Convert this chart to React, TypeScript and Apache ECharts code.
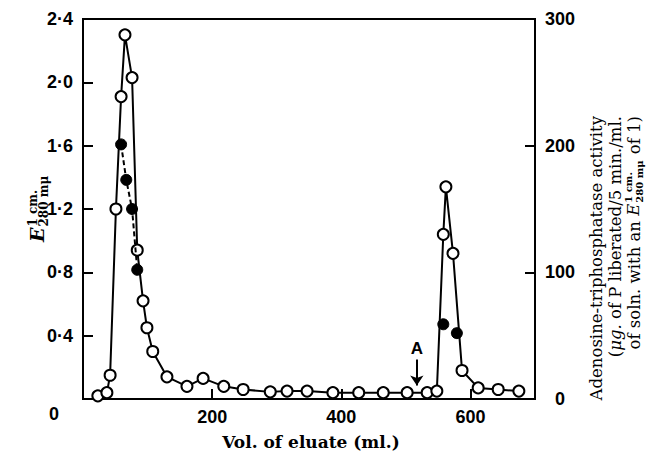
import React, { useEffect, useRef } from 'react';
import * as echarts from 'echarts';

// Extinction E(1 cm, 280 mμ) — open circles, left axis
const volE = [23, 37, 42, 51, 59, 65, 76, 84, 93, 99, 108, 130, 161, 186, 218, 248, 290, 316, 347, 387, 427, 465, 502, 533, 548, 558, 562, 573, 587, 612, 643, 675];
const absE = [0.02, 0.04, 0.15, 1.2, 1.91, 2.3, 2.03, 0.94, 0.62, 0.45, 0.3, 0.14, 0.08, 0.13, 0.08, 0.06, 0.045, 0.05, 0.05, 0.04, 0.04, 0.04, 0.04, 0.04, 0.05, 1.04, 1.34, 0.92, 0.18, 0.07, 0.06, 0.05];

// ATPase activity — filled circles, right axis
const volAct1 = [59, 67, 76, 84];
const act1 = [201, 173, 150, 102];
const volAct2 = [558, 579];
const act2 = [59, 52];

// annotation arrow "A"
const arrowVol = 517;
const arrowFrom = 0.25;
const arrowTo = 0.085;
const arrowLabel = 'A';

const xTitle = 'Vol. of eluate (ml.)';
const rightLine1 = 'Adenosine-triphosphatase activity';
const rightLine2 = '({i|μg.} of P liberated/5 min./ml.';
const rightLine3a = 'of soln. with an ';
const rightLine3b = ' of 1)';
const eSup = '1 cm.';
const eSub = '280 mμ';

const SANS = '"Liberation Sans", Arial, sans-serif';
const SERIF = '"DejaVu Serif", serif';

function measure(text: string, font: string): number {
  const c = document.createElement('canvas').getContext('2d');
  if (!c) return text.length * 7;
  c.font = font;
  return c.measureText(text).width;
}

export default function App() {
  const ref = useRef<HTMLDivElement>(null);
  useEffect(() => {
    if (!ref.current) return;
    const chart = echarts.init(ref.current, undefined, { renderer: 'svg' });

    const tf = 16.5; // right title font size
    const tFont = `${tf}px ${SERIF}`;
    const subF = 10;
    const w3b = measure(rightLine3b, tFont);
    const wSub = measure(eSub, `bold ${subF}px ${SERIF}`);
    const wSup = measure(eSup, `bold ${subF}px ${SERIF}`);
    const wBlk = Math.max(wSub, wSup);
    const wE = measure('E', `italic ${tf}px ${SERIF}`);

    const lf = 19;
    const lsf = 12;
    const lwE = measure('E', `italic bold ${lf}px ${SERIF}`);

    const eE = absE.map((v, i) => [volE[i], v]);
    const a1 = act1.map((v, i) => [volAct1[i], v]);
    const a2 = act2.map((v, i) => [volAct2[i], v]);

    const option: any = {
      animation: false,
      backgroundColor: '#fff',
      grid: { left: 83, right: 115, top: 19, bottom: 54, show: true, borderColor: '#000', borderWidth: 2, backgroundColor: 'transparent' },
      xAxis: {
        type: 'value', min: 0, max: 700, interval: 200,
        axisLine: { show: true, lineStyle: { color: '#000', width: 2 } },
        axisTick: { show: true, inside: true, length: 10, lineStyle: { color: '#000', width: 2 } },
        splitLine: { show: false },
        axisLabel: {
          margin: 9, color: '#000', fontFamily: SANS, fontWeight: 'bold', fontSize: 18,
          showMaxLabel: false,
          formatter: (v: number) => (v === 0 || v % 200 !== 0 ? '' : String(v)),
        },
      },
      yAxis: [
        {
          type: 'value', min: 0, max: 2.4, interval: 0.4, position: 'left',
          axisLine: { show: true, lineStyle: { color: '#000', width: 2 } },
          axisTick: { show: true, inside: true, length: 10, lineStyle: { color: '#000', width: 2 } },
          splitLine: { show: false },
          axisLabel: {
            margin: 10, color: '#000', fontFamily: SANS, fontWeight: 'bold', fontSize: 18,
            formatter: (v: number) => (v === 0 ? '{z|0}' : v.toFixed(1).replace('.', '·')),
            rich: { z: { fontFamily: SANS, fontWeight: 'bold', fontSize: 18, color: '#000', padding: [30, 14, 0, 0] } },
          },
        },
        {
          type: 'value', min: 0, max: 300, interval: 100, position: 'right',
          axisLine: { show: true, lineStyle: { color: '#000', width: 2 } },
          axisTick: { show: true, inside: true, length: 10, lineStyle: { color: '#000', width: 2 } },
          splitLine: { show: false },
          axisLabel: { margin: 25, align: 'center', color: '#000', fontFamily: SANS, fontWeight: 'bold', fontSize: 18 },
        },
      ],
      series: [
        {
          type: 'line', data: eE, yAxisIndex: 0, z: 3,
          symbol: 'circle', symbolSize: 11,
          itemStyle: { color: '#fff', borderColor: '#000', borderWidth: 2 },
          lineStyle: { color: '#000', width: 2 },
          markLine: {
            silent: true, symbol: ['none', 'arrow'], symbolSize: 10,
            lineStyle: { color: '#000', width: 2, type: 'solid' },
            label: { show: true, position: 'start', formatter: arrowLabel, color: '#000', fontFamily: SANS, fontWeight: 'bold', fontSize: 17, distance: 2 },
            data: [[{ coord: [arrowVol, arrowFrom] }, { coord: [arrowVol, arrowTo] }]],
          },
        },
        {
          type: 'line', data: a1, yAxisIndex: 1, z: 4,
          symbol: 'circle', symbolSize: 11,
          itemStyle: { color: '#000', borderColor: '#000', borderWidth: 1, opacity: 1 },
          lineStyle: { color: '#000', width: 2, type: [5, 3] },
        },
        {
          type: 'scatter', data: a2, yAxisIndex: 1, z: 4,
          symbol: 'circle', symbolSize: 11,
          itemStyle: { color: '#000', borderColor: '#000', borderWidth: 1, opacity: 1 },
        },
      ],
      graphic: [
        {
          type: 'text', x: 311, y: 442, z: 10,
          style: { text: xTitle, fill: '#000', font: `bold 17px ${SERIF}`, align: 'center', verticalAlign: 'middle' },
        },
        {
          type: 'group', x: 43, y: 242, rotation: Math.PI / 2,
          children: [
            { type: 'text', x: 0, y: -6, style: { text: 'E', fill: '#000', font: `italic bold ${lf}px ${SERIF}`, align: 'left', verticalAlign: 'middle' } },
            { type: 'text', x: lwE + 1, y: -10, style: { text: eSup, fill: '#000', font: `bold ${lsf}px ${SERIF}`, align: 'left', verticalAlign: 'middle' } },
            { type: 'text', x: lwE + 1, y: 1, style: { text: eSub, fill: '#000', font: `bold ${lsf}px ${SERIF}`, align: 'left', verticalAlign: 'middle' } },
          ],
        },
        {
          type: 'group', x: 615, y: 116, rotation: Math.PI / 2,
          children: [
            { type: 'text', x: 0, y: -19, style: { text: rightLine1, fill: '#000', font: tFont, align: 'right', verticalAlign: 'middle' } },
            {
              type: 'text', x: 0, y: 0,
              style: { text: rightLine2, fill: '#000', font: tFont, align: 'right', verticalAlign: 'middle', rich: { i: { fontStyle: 'italic', fontFamily: SERIF, fontSize: tf } } },
            },
            { type: 'text', x: 0, y: 19, style: { text: rightLine3b, fill: '#000', font: tFont, align: 'right', verticalAlign: 'middle' } },
            { type: 'text', x: -w3b - wBlk - 1, y: 13, style: { text: eSup, fill: '#000', font: `bold ${subF}px ${SERIF}`, align: 'left', verticalAlign: 'middle' } },
            { type: 'text', x: -w3b - wBlk - 1, y: 24, style: { text: eSub, fill: '#000', font: `bold ${subF}px ${SERIF}`, align: 'left', verticalAlign: 'middle' } },
            { type: 'text', x: -w3b - wBlk - 2, y: 18, style: { text: 'E', fill: '#000', font: `italic ${tf}px ${SERIF}`, align: 'right', verticalAlign: 'middle' } },
            { type: 'text', x: -w3b - wBlk - 2 - wE, y: 19, style: { text: rightLine3a, fill: '#000', font: tFont, align: 'right', verticalAlign: 'middle' } },
          ],
        },
      ],
    };
    chart.setOption(option);
    return () => chart.dispose();
  }, []);
  return <div ref={ref} style={{ width: 650, height: 453, position: 'absolute', left: 0, top: 0 }} />;
}
